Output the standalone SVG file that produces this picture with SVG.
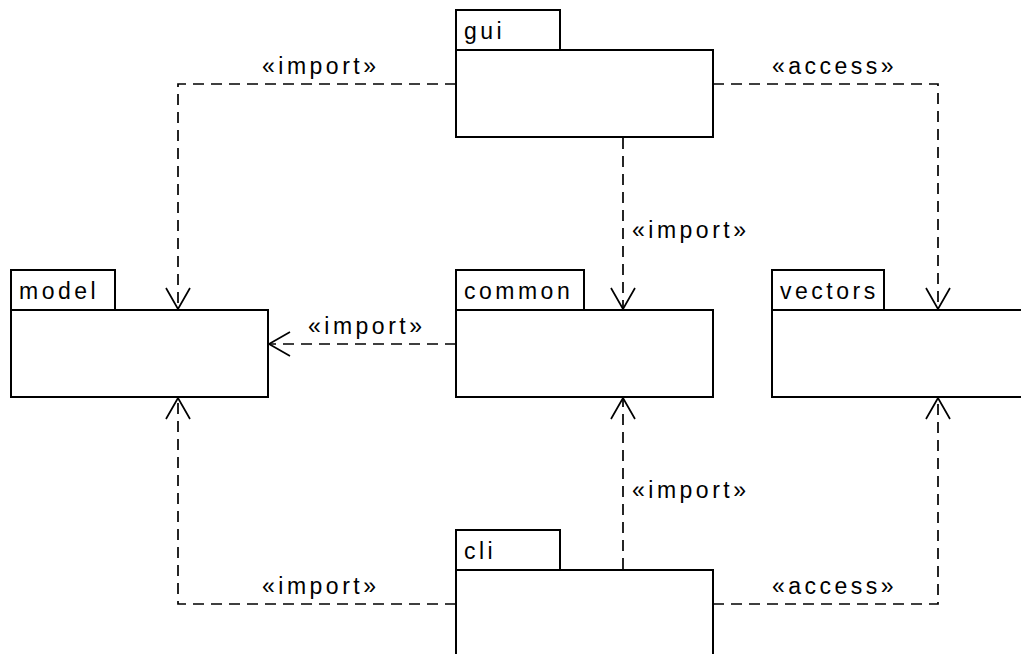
<svg xmlns="http://www.w3.org/2000/svg" width="1021" height="654" viewBox="0 0 1021 654">
<style>
.box{fill:#fff;stroke:#000;stroke-width:2}
.name{font-family:"Liberation Sans",Arial,sans-serif;font-size:23px;letter-spacing:3.5px;fill:#000}
.lbl{font-family:"Liberation Sans",Arial,sans-serif;font-size:23px;letter-spacing:3.5px;fill:#000}
.dep{fill:none;stroke:#000;stroke-width:1.7;stroke-dasharray:11,7;marker-end:url(#open)}
</style>
<defs>
<marker id="open" markerUnits="userSpaceOnUse" markerWidth="30" markerHeight="30" viewBox="-25 -15 30 30" refX="0" refY="0" orient="auto">
<path d="M-21,-12 L0,0 L-21,12" fill="none" stroke="#000" stroke-width="1.7"/>
</marker>
</defs>
<rect width="1021" height="654" fill="#fff"/>
<g id="connectors">
<path class="dep" d="M456,84 H178 V309"/>
<path class="dep" d="M713,84 H938 V309"/>
<path class="dep" d="M623,138 V309"/>
<path class="dep" d="M456,344 H269"/>
<path class="dep" d="M623,569 V398"/>
<path class="dep" d="M456,604 H178 V398"/>
<path class="dep" d="M713,604 H938 V398"/>
<text class="lbl" x="262" y="74">«import»</text>
<text class="lbl" x="772" y="74">«access»</text>
<text class="lbl" x="632" y="238">«import»</text>
<text class="lbl" x="308" y="334">«import»</text>
<text class="lbl" x="632" y="498">«import»</text>
<text class="lbl" x="262" y="594">«import»</text>
<text class="lbl" x="772" y="594">«access»</text>
</g>
<g id="gui">
<rect class="box" x="456" y="10" width="104" height="40"/>
<rect class="box" x="456" y="50" width="257" height="87"/>
<text class="name" x="464" y="39">gui</text>
</g>
<g id="model">
<rect class="box" x="11" y="270" width="104" height="40"/>
<rect class="box" x="11" y="310" width="257" height="87"/>
<text class="name" x="19" y="299">model</text>
</g>
<g id="common">
<rect class="box" x="456" y="270" width="128" height="40"/>
<rect class="box" x="456" y="310" width="257" height="87"/>
<text class="name" x="464" y="299">common</text>
</g>
<g id="vectors">
<rect class="box" x="772" y="270" width="112" height="40"/>
<rect class="box" x="772" y="310" width="260" height="87"/>
<text class="name" x="780" y="299">vectors</text>
</g>
<g id="cli">
<rect class="box" x="456" y="530" width="104" height="40"/>
<rect class="box" x="456" y="570" width="257" height="95"/>
<text class="name" x="464" y="559">cli</text>
</g>
</svg>
